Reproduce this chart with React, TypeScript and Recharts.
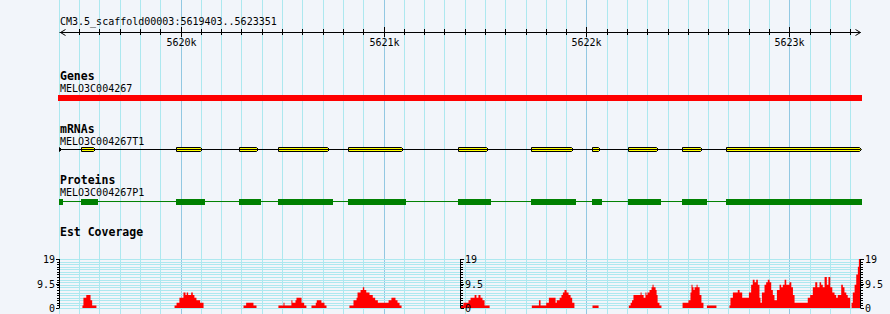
import { ComposedChart, XAxis, YAxis, Area, ReferenceLine, ReferenceArea } from 'recharts'

const W = 890
const H = 314
const FONT = '"DejaVu Sans Mono", monospace'

const REGION_START = 5619403
const REGION_END = 5623351
const REGION_LABEL = 'CM3.5_scaffold00003:5619403..5623351'

const MAJOR_TICKS = [5620000, 5621000, 5622000, 5623000]
const MAJOR_LABELS = ['5620k', '5621k', '5622k', '5623k']

const GENE_NAME = 'MELO3C004267'
const GENE_SPAN = [5619398, 5623356]

const MRNA_NAME = 'MELO3C004267T1'
const MRNA_STARTS = [5619400, 5619507, 5619975, 5620290, 5620482, 5620827, 5621365, 5621729, 5622030, 5622203, 5622469, 5622690]
const MRNA_ENDS = [5619415, 5619585, 5620108, 5620384, 5620734, 5621103, 5621522, 5621941, 5622070, 5622360, 5622577, 5623356]

const PROTEIN_NAME = 'MELO3C004267P1'
const CDS_STARTS = [5619400, 5619507, 5619975, 5620290, 5620482, 5620827, 5621365, 5621729, 5622030, 5622203, 5622469, 5622690]
const CDS_ENDS = [5619420, 5619595, 5620118, 5620394, 5620749, 5621113, 5621532, 5621951, 5622079, 5622370, 5622592, 5623356]

// est coverage, read as runs of constant depth
const COV_START = [
  5619516, 5619521, 5619535, 5619556, 5619564,
  5619970, 5619980, 5619994, 5620014, 5620024, 5620030, 5620037, 5620052, 5620060, 5620068, 5620078, 5620096,
  5620310, 5620323, 5620359,
  5620482, 5620507, 5620512, 5620546, 5620551, 5620566, 5620571, 5620596, 5620609,
  5620645, 5620666, 5620671, 5620694, 5620709,
  5620832, 5620852, 5620867, 5620872, 5620887, 5620898, 5620905, 5620915, 5620931, 5620947, 5620959, 5620972, 5621025, 5621039, 5621059, 5621069, 5621079,
  5621380, 5621394, 5621419, 5621429, 5621449, 5621458, 5621468, 5621478, 5621488, 5621498,
  5621731, 5621766, 5621774, 5621802, 5621815, 5621848, 5621854, 5621868, 5621877, 5621884, 5621892, 5621902, 5621912, 5621922, 5621930,
  5622030,
  5622209, 5622218, 5622225, 5622232, 5622267, 5622272, 5622282, 5622291, 5622296, 5622301, 5622311, 5622321, 5622326, 5622331, 5622341, 5622346, 5622351, 5622360,
  5622474, 5622503, 5622513, 5622518, 5622523, 5622528, 5622533, 5622543, 5622548, 5622558, 5622567,
  5622594,
  5622705, 5622710, 5622722, 5622746, 5622755, 5622768, 5622801, 5622812, 5622820, 5622829, 5622837, 5622845, 5622853, 5622858,
  5622865, 5622878, 5622886, 5622894, 5622903, 5622911, 5622919, 5622927, 5622939, 5622952, 5622960, 5622968, 5622977, 5622985,
  5623001, 5623010, 5623018, 5623026, 5623091, 5623103, 5623116, 5623128, 5623138, 5623149, 5623157, 5623165, 5623174, 5623185,
  5623193, 5623202, 5623212, 5623223, 5623231, 5623239, 5623256, 5623264, 5623272, 5623281, 5623288,
  5623307, 5623313, 5623322, 5623330, 5623338, 5623343,
]
const COV_END = [
  5619521, 5619535, 5619556, 5619564, 5619585,
  5619980, 5619994, 5620014, 5620024, 5620030, 5620037, 5620052, 5620060, 5620068, 5620078, 5620096, 5620113,
  5620323, 5620359, 5620374,
  5620507, 5620512, 5620546, 5620551, 5620566, 5620571, 5620596, 5620609, 5620620,
  5620666, 5620671, 5620694, 5620709, 5620719,
  5620852, 5620867, 5620872, 5620887, 5620898, 5620905, 5620915, 5620931, 5620947, 5620959, 5620972, 5621025, 5621039, 5621059, 5621069, 5621079, 5621089,
  5621394, 5621419, 5621429, 5621449, 5621458, 5621468, 5621478, 5621488, 5621498, 5621523,
  5621766, 5621774, 5621802, 5621815, 5621848, 5621854, 5621868, 5621877, 5621884, 5621892, 5621902, 5621912, 5621922, 5621930, 5621941,
  5622060,
  5622218, 5622225, 5622232, 5622267, 5622272, 5622282, 5622291, 5622296, 5622301, 5622311, 5622321, 5622326, 5622331, 5622341, 5622346, 5622351, 5622360, 5622370,
  5622503, 5622513, 5622518, 5622523, 5622528, 5622533, 5622543, 5622548, 5622558, 5622567, 5622577,
  5622641,
  5622710, 5622722, 5622746, 5622755, 5622768, 5622801, 5622812, 5622820, 5622829, 5622837, 5622845, 5622853, 5622858, 5622865,
  5622878, 5622886, 5622894, 5622903, 5622911, 5622919, 5622927, 5622939, 5622952, 5622960, 5622968, 5622977, 5622985, 5623001,
  5623010, 5623018, 5623026, 5623091, 5623103, 5623116, 5623128, 5623138, 5623149, 5623157, 5623165, 5623174, 5623185, 5623193,
  5623202, 5623212, 5623223, 5623231, 5623239, 5623256, 5623264, 5623272, 5623281, 5623288, 5623300,
  5623313, 5623322, 5623330, 5623338, 5623343, 5623351,
]
const COV_DEPTH = [
  1, 4, 5, 3, 1,
  1, 2, 4, 6, 5, 6, 5, 6, 5, 4, 3, 2,
  1, 2, 1,
  1, 2, 1, 3, 2, 3, 4, 2, 1,
  1, 2, 3, 2, 1,
  1, 3, 4, 6, 7, 8, 7, 6, 5, 4, 3, 2, 3, 4, 3, 2, 1,
  1, 2, 3, 4, 5, 4, 5, 4, 3, 1,
  1, 3, 1, 2, 4, 2, 3, 4, 5, 6, 7, 6, 5, 4, 2,
  1,
  1, 2, 3, 5, 6, 5, 4, 6, 5, 6, 7, 8, 9, 8, 7, 5, 2, 1,
  2, 3, 6, 9, 8, 7, 8, 9, 8, 5, 2,
  1,
  1, 4, 6, 7, 6, 4, 6, 9, 11, 10, 11, 9, 4, 2,
  6, 9, 10, 11, 10, 7, 5, 3, 7, 9, 8, 9, 11, 9,
  10, 8, 5, 2, 4, 5, 8, 10, 8, 10, 9, 8, 12, 9,
  12, 8, 6, 5, 4, 5, 9, 8, 6, 5, 4,
  2, 6, 9, 13, 16, 19,
]
const COV_MAX = 19
const COV_TICKS = [0, 1, 2, 3, 4, 5, 6, 7, 8, 9, 9.5, 10, 11, 12, 13, 14, 15, 16, 17, 18, 19]
const COV_LABELS = [0, 9.5, 19]
const COV_GRID = [0, 1, 2, 3, 4, 5, 6, 7, 8, 9, 10, 11, 12, 13, 14, 15, 16, 17, 18, 19]

const BG = '#f2f5fa'
const GRID_MINOR = '#ade8ef'
const GRID_MAJOR = '#92c8e2'

// plot spans x 59.5 .. 860.5
const LEFT = 59.5
const RIGHT = 29.5

const gridLines: number[] = []
for (let p = 5619400; p <= REGION_END; p += 100) gridLines.push(p)
const rulerTicks: number[] = [REGION_START]
for (let p = 5619500; p < REGION_END; p += 100) rulerTicks.push(p)
rulerTicks.push(REGION_END)

function buildCoverage() {
  const pts: { pos: number; depth: number }[] = [{ pos: REGION_START, depth: 0 }]
  COV_START.forEach((s, i) => {
    const e = COV_END[i]
    pts.push({ pos: s, depth: COV_DEPTH[i] })
    if (COV_START[i + 1] !== e) pts.push({ pos: e, depth: e >= REGION_END ? COV_DEPTH[i] : 0 })
  })
  if (pts[pts.length - 1].pos < REGION_END) pts.push({ pos: REGION_END, depth: 0 })
  return pts
}
const covData = buildCoverage()

const snap = (v: number) => Math.round(v) + 0.5

const vLine = (color: string) => (p: any) => (
  <line x1={snap(p.x1)} x2={snap(p.x2)} y1={p.y1} y2={p.y2} stroke={color} strokeWidth={1} />
)
const hLine = (color: string) => (p: any) => (
  <line x1={p.x1} x2={p.x2} y1={snap(p.y1)} y2={snap(p.y2)} stroke={color} strokeWidth={1} />
)

const block = (color: string) => (p: any) => {
  const x0 = Math.round(p.x)
  const x1 = Math.max(x0 + 1, Math.round(p.x + p.width))
  return <rect x={x0} y={p.y} width={x1 - x0} height={p.height} fill={color} />
}

function ExonShape(p: any) {
  const x0 = Math.round(p.x) + 0.5
  const x1 = Math.max(x0 + 1, Math.round(p.x + p.width) - 0.5)
  const y0 = p.y
  const y1 = p.y + p.height
  const ym = (y0 + y1) / 2
  const tip = Math.min(2, x1 - x0)
  return (
    <path
      d={`M${x0},${y0} L${x1 - tip},${y0} L${x1},${ym} L${x1 - tip},${y1} L${x0},${y1} Z`}
      fill="#ffff00"
      stroke="#000"
      strokeWidth={1}
    />
  )
}

function RulerTick(p: any) {
  const v = p.payload.value
  const y = p.y
  if (v === REGION_START) {
    const x = p.x + 1
    return <path d={`M${x + 5},${y - 3} L${x},${y} L${x + 5},${y + 3}`} fill="none" stroke="#000" />
  }
  if (v === REGION_END) {
    const x = p.x
    return <path d={`M${x - 5},${y - 3} L${x},${y} L${x - 5},${y + 3}`} fill="none" stroke="#000" />
  }
  const x = snap(p.x)
  const mi = MAJOR_TICKS.indexOf(v)
  if (mi >= 0) {
    return (
      <g>
        <line x1={x} x2={x} y1={y - 5.5} y2={y + 4.5} stroke="#000" />
        <text x={x} y={y + 13} textAnchor="middle" fontFamily={FONT} fontSize={10} fill="#000">
          {MAJOR_LABELS[mi]}
        </text>
      </g>
    )
  }
  return <line x1={x} x2={x} y1={y - 3.5} y2={y + 2.5} stroke="#000" />
}

const covTick = (side: 'left' | 'right') => (p: any) => {
  const v = p.payload.value
  const y = snap(p.y)
  const labelled = COV_LABELS.includes(v)
  const len = labelled ? 3 : 2
  const dir = side === 'left' ? -1 : 1
  return (
    <g>
      <line x1={p.x} x2={p.x + dir * (len + 0.5)} y1={y} y2={y} stroke="#000" strokeWidth={1} />
      {labelled && (
        <text
          x={p.x + dir * 4.5}
          y={y + 3.5}
          textAnchor={side === 'left' ? 'end' : 'start'}
          fontFamily={FONT}
          fontSize={10}
          fill="#000"
        >
          {String(v)}
        </text>
      )}
    </g>
  )
}

const layer: React.CSSProperties = { position: 'absolute', left: 0, top: 0 }

function Track({ top, bottom, children }: { top: number; bottom: number; children: React.ReactNode }) {
  return (
    <div style={layer}>
      <ComposedChart width={W} height={H} data={covData} margin={{ top, right: RIGHT, bottom: H - bottom, left: LEFT }}>
        <XAxis dataKey="pos" type="number" domain={[REGION_START, REGION_END]} allowDataOverflow hide />
        <YAxis dataKey="depth" type="number" domain={[0, 1]} allowDataOverflow hide />
        {children}
      </ComposedChart>
    </div>
  )
}

function CovAxis({ side, id }: { side: 'left' | 'right'; id?: string }) {
  return (
    <YAxis
      yAxisId={id ?? 0}
      orientation={side}
      dataKey="depth"
      type="number"
      domain={[0, COV_MAX]}
      allowDataOverflow
      width={side === 'left' ? 40 : 28}
      ticks={COV_TICKS}
      interval={0}
      tickSize={0}
      tickMargin={0}
      tickLine={false}
      axisLine={{ stroke: '#000' }}
      tick={covTick(side)}
    />
  )
}

export default function App() {
  return (
    <div style={{ position: 'relative', width: W, height: H, background: BG, overflow: 'hidden' }}>
      <style>{'body{margin:0}'}</style>

      {/* vertical grid */}
      <Track top={0} bottom={H}>
        {gridLines.map((p) => (
          <ReferenceLine
            key={p}
            x={p}
            ifOverflow="visible"
            stroke={p % 1000 === 0 ? GRID_MAJOR : GRID_MINOR}
            shape={vLine(p % 1000 === 0 ? GRID_MAJOR : GRID_MINOR)}
          />
        ))}
      </Track>

      {/* coverage horizontal grid */}
      <div style={layer}>
        <ComposedChart width={W} height={H} data={covData} margin={{ top: 259, right: RIGHT, bottom: H - 308, left: LEFT }}>
          <XAxis dataKey="pos" type="number" domain={[REGION_START, REGION_END]} allowDataOverflow hide />
          <YAxis dataKey="depth" type="number" domain={[0, COV_MAX]} allowDataOverflow hide />
          {COV_GRID.map((v) => (
            <ReferenceLine key={v} y={v} stroke={GRID_MINOR} shape={hLine(GRID_MINOR)} />
          ))}
        </ComposedChart>
      </div>

      {/* ruler */}
      <div style={layer}>
        <ComposedChart width={W} height={H} data={covData} margin={{ top: 0, right: RIGHT, bottom: 0, left: LEFT }}>
          <XAxis
            dataKey="pos"
            type="number"
            orientation="top"
            height={32.5}
            domain={[REGION_START, REGION_END]}
            allowDataOverflow
            ticks={rulerTicks}
            interval={0}
            tickSize={0}
            tickMargin={0}
            tickLine={false}
            axisLine={{ stroke: '#000' }}
            tick={RulerTick}
          />
          <YAxis dataKey="depth" type="number" domain={[0, 1]} allowDataOverflow hide />
        </ComposedChart>
      </div>

      {/* genes */}
      <Track top={95} bottom={101}>
        <ReferenceArea x1={GENE_SPAN[0]} x2={GENE_SPAN[1]} ifOverflow="visible" fill="#ff0000" fillOpacity={1} shape={block('#ff0000')} />
      </Track>

      {/* mRNAs */}
      <Track top={147.5} bottom={151.5}>
        <ReferenceLine y={0.5} stroke="#000" strokeWidth={1} />
        {MRNA_STARTS.map((s, i) => (
          <ReferenceArea key={s} x1={s} x2={MRNA_ENDS[i]} ifOverflow="visible" shape={ExonShape} />
        ))}
      </Track>

      {/* proteins */}
      <Track top={199} bottom={205}>
        <ReferenceLine y={0.58} stroke="#008000" strokeWidth={1} />
        {CDS_STARTS.map((s, i) => (
          <ReferenceArea key={s} x1={s} x2={CDS_ENDS[i]} ifOverflow="visible" shape={block('#008000')} />
        ))}
      </Track>

      {/* est coverage */}
      <div style={layer}>
        <ComposedChart width={W} height={H} data={covData} margin={{ top: 259, right: RIGHT - 28, bottom: H - 308, left: LEFT - 40 }}>
          <XAxis dataKey="pos" type="number" domain={[REGION_START, REGION_END]} allowDataOverflow hide />
          {CovAxis({ side: 'left' })}
          {CovAxis({ side: 'right', id: 'r' })}
          <Area
            dataKey="depth"
            type="stepAfter"
            fill="#ff0000"
            fillOpacity={1}
            stroke="none"
            baseValue={0}
            dot={false}
            activeDot={false}
            isAnimationActive={false}
          />
        </ComposedChart>
      </div>

      {/* middle coverage scale */}
      <div style={layer}>
        <ComposedChart width={W} height={H} data={covData} margin={{ top: 259, right: W - 460.5 - 28, bottom: H - 308, left: LEFT }}>
          <XAxis dataKey="pos" type="number" domain={[REGION_START, REGION_END]} allowDataOverflow hide />
          {CovAxis({ side: 'right' })}
        </ComposedChart>
      </div>

      {/* track titles */}
      <svg width={W} height={H} style={layer} fontFamily={FONT} fill="#000">
        <text x={60} y={24.5} fontSize={10}>{REGION_LABEL}</text>
        <text x={60} y={80} fontSize={11.5} fontWeight="bold">Genes</text>
        <text x={60} y={91.5} fontSize={10}>{GENE_NAME}</text>
        <text x={60} y={133} fontSize={11.5} fontWeight="bold">mRNAs</text>
        <text x={60} y={144.5} fontSize={10}>{MRNA_NAME}</text>
        <text x={60} y={184} fontSize={11.5} fontWeight="bold">Proteins</text>
        <text x={60} y={195.5} fontSize={10}>{PROTEIN_NAME}</text>
        <text x={60} y={235.5} fontSize={11.5} fontWeight="bold">Est Coverage</text>
      </svg>
    </div>
  )
}
